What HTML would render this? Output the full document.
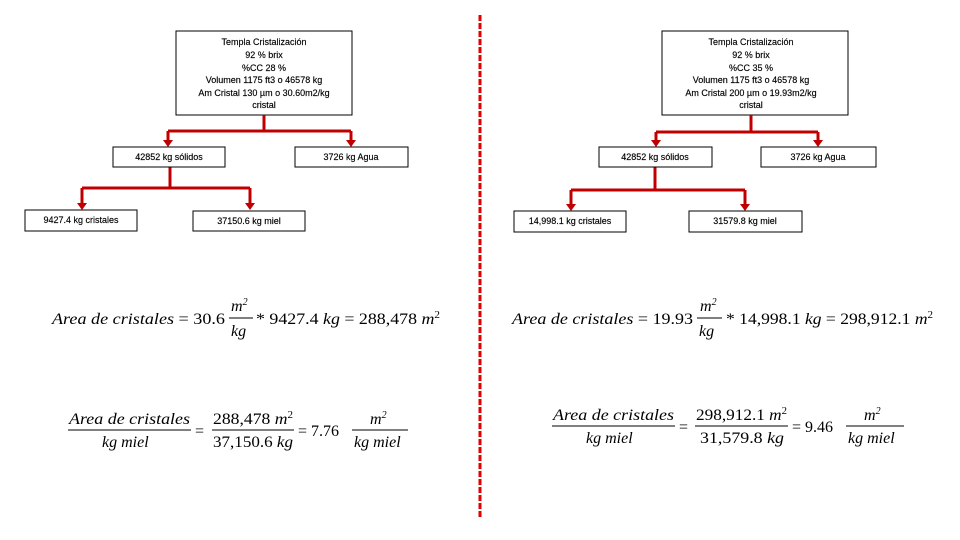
<!DOCTYPE html>
<html><head><meta charset="utf-8"><style>
body{margin:0;background:#fff;width:960px;height:540px;overflow:hidden}
svg{display:block}
.b{fill:#fff;stroke:#000;stroke-width:1}
.t{font-family:"Liberation Sans",sans-serif;font-size:9px;text-anchor:middle;fill:#000;stroke:#000;stroke-width:0.15}
.m{font-family:"Liberation Serif",serif;font-size:16px;fill:#000}
.i{font-style:italic}
.r{stroke:#c00000;stroke-width:3;fill:none}
.a{fill:#c00000}
</style></head><body>
<svg width="960" height="540" viewBox="0 0 960 540">
<line x1="480" y1="15" x2="480" y2="518" stroke="#e00000" stroke-width="3" stroke-dasharray="6,2"/>
<!-- LEFT -->
<rect class="b" x="176" y="31" width="176" height="84"/>
<text class="t" x="264" y="45">Templa Cristalización</text>
<text class="t" x="264" y="58">92 % brix</text>
<text class="t" x="264" y="71">%CC 28 %</text>
<text class="t" x="264" y="83">Volumen 1175 ft3 o 46578 kg</text>
<text class="t" x="264" y="96">Am Cristal 130 µm o 30.60m2/kg</text>
<text class="t" x="264" y="108">cristal</text>
<path class="r" d="M264 115V131M168 131H351M168 131V142M351 131V142M170 167V188M82 188H250M82 188V205M250 188V205"/>
<path class="a" d="M163 140h10l-5 7zM346 140h10l-5 7zM77 203h10l-5 7zM245 203h10l-5 7z"/>
<rect class="b" x="113" y="147" width="112" height="20"/>
<text class="t" x="169" y="160">42852 kg sólidos</text>
<rect class="b" x="295" y="147" width="113" height="20"/>
<text class="t" x="351" y="160">3726 kg Agua</text>
<rect class="b" x="25" y="210" width="112" height="21"/>
<text class="t" x="81" y="223">9427.4 kg cristales</text>
<rect class="b" x="193" y="211" width="112" height="20"/>
<text class="t" x="249" y="224">37150.6 kg miel</text>
<!-- RIGHT -->
<rect class="b" x="662" y="31" width="186" height="84"/>
<text class="t" x="751" y="45">Templa Cristalización</text>
<text class="t" x="751" y="58">92 % brix</text>
<text class="t" x="751" y="71">%CC 35 %</text>
<text class="t" x="751" y="83">Volumen 1175 ft3 o 46578 kg</text>
<text class="t" x="751" y="96">Am Cristal 200 µm o 19.93m2/kg</text>
<text class="t" x="751" y="108">cristal</text>
<path class="r" d="M751 115V132M656 132H818M656 132V142M818 132V142M655 167V190M571 190H745M571 190V205M745 190V205"/>
<path class="a" d="M651 140h10l-5 7zM813 140h10l-5 7zM566 204h10l-5 7zM740 204h10l-5 7z"/>
<rect class="b" x="599" y="147" width="113" height="20"/>
<text class="t" x="655" y="160">42852 kg sólidos</text>
<rect class="b" x="761" y="147" width="115" height="20"/>
<text class="t" x="818" y="160">3726 kg Agua</text>
<rect class="b" x="514" y="211" width="112" height="21"/>
<text class="t" x="570" y="224">14,998.1 kg cristales</text>
<rect class="b" x="689" y="211" width="113" height="21"/>
<text class="t" x="745" y="224">31579.8 kg miel</text>
<!-- EQUATIONS LEFT -->
<text class="m" x="52" y="324" textLength="173" lengthAdjust="spacingAndGlyphs"><tspan class="i">Area de cristales</tspan> = 30.6</text>
<text class="m i" x="231" y="311">m<tspan font-size="10" dy="-6">2</tspan></text>
<line x1="229" y1="318" x2="253" y2="318" stroke="#000"/>
<text class="m i" x="231" y="336">kg</text>
<text class="m" x="256" y="324" textLength="184" lengthAdjust="spacingAndGlyphs">* 9427.4 <tspan class="i">kg</tspan> = 288,478 <tspan class="i">m</tspan><tspan font-size="10" dy="-6">2</tspan></text>

<text class="m i" x="69" y="424" textLength="121" lengthAdjust="spacingAndGlyphs">Area de cristales</text>
<line x1="68" y1="430" x2="191" y2="430" stroke="#000"/>
<text class="m i" x="102" y="447">kg miel</text>
<text class="m" x="195" y="436">=</text>
<text class="m" x="213" y="424" textLength="80" lengthAdjust="spacingAndGlyphs">288,478 <tspan class="i">m</tspan><tspan font-size="10" dy="-6">2</tspan></text>
<line x1="212" y1="430" x2="294" y2="430" stroke="#000"/>
<text class="m" x="213" y="447" textLength="80" lengthAdjust="spacingAndGlyphs">37,150.6 <tspan class="i">kg</tspan></text>
<text class="m" x="298" y="436">= 7.76</text>
<text class="m i" x="370" y="424">m<tspan font-size="10" dy="-6">2</tspan></text>
<line x1="352" y1="430" x2="408" y2="430" stroke="#000"/>
<text class="m i" x="354" y="447">kg miel</text>
<!-- EQUATIONS RIGHT -->
<text class="m" x="512" y="324" textLength="181" lengthAdjust="spacingAndGlyphs"><tspan class="i">Area de cristales</tspan> = 19.93</text>
<text class="m i" x="700" y="311">m<tspan font-size="10" dy="-6">2</tspan></text>
<line x1="697" y1="318" x2="722" y2="318" stroke="#000"/>
<text class="m i" x="699" y="336">kg</text>
<text class="m" x="726" y="324" textLength="207" lengthAdjust="spacingAndGlyphs">* 14,998.1 <tspan class="i">kg</tspan> = 298,912.1 <tspan class="i">m</tspan><tspan font-size="10" dy="-6">2</tspan></text>

<text class="m i" x="553" y="420" textLength="121" lengthAdjust="spacingAndGlyphs">Area de cristales</text>
<line x1="552" y1="426" x2="675" y2="426" stroke="#000"/>
<text class="m i" x="586" y="443">kg miel</text>
<text class="m" x="679" y="432">=</text>
<text class="m" x="696" y="420" textLength="91" lengthAdjust="spacingAndGlyphs">298,912.1 <tspan class="i">m</tspan><tspan font-size="10" dy="-6">2</tspan></text>
<line x1="695" y1="426" x2="788" y2="426" stroke="#000"/>
<text class="m" x="700" y="443" textLength="84" lengthAdjust="spacingAndGlyphs">31,579.8 <tspan class="i">kg</tspan></text>
<text class="m" x="792" y="432">= 9.46</text>
<text class="m i" x="864" y="420">m<tspan font-size="10" dy="-6">2</tspan></text>
<line x1="846" y1="426" x2="904" y2="426" stroke="#000"/>
<text class="m i" x="848" y="443">kg miel</text>
</svg>
</body></html>
